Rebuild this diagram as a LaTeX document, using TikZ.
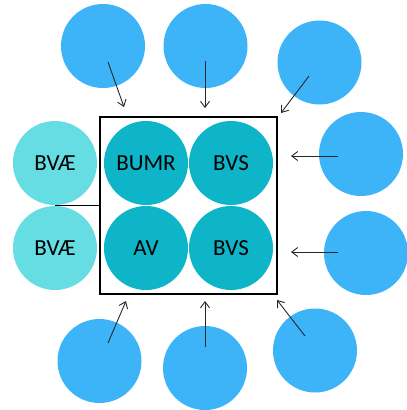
\documentclass[tikz,border=0pt]{standalone}
\usepackage{fontspec}
\usetikzlibrary{arrows.meta}
\setmainfont{Carlito}
\definecolor{outerblue}{RGB}{62,180,248}
\definecolor{innerteal}{RGB}{14,180,200}
\definecolor{sidecyan}{RGB}{102,221,226}
\begin{document}
\begin{tikzpicture}[x=1pt,y=-1pt,
 outer/.style={circle,fill=outerblue,minimum size=84pt,inner sep=0pt},
 inner/.style={circle,fill=innerteal,minimum size=84pt,inner sep=0pt,font=\fontsize{23}{25}\selectfont},
 side/.style={circle,fill=sidecyan,minimum size=84pt,inner sep=0pt,font=\fontsize{23}{25}\selectfont},
 flow/.style={-{Straight Barb[length=6pt,width=9pt]},line width=0.9pt,black!85}]
\useasboundingbox (0,0) rectangle (407,410);
% outer circles with their arrows: name/centre/start/end
 \foreach \n/\cx/\cy/\sx/\sy/\ex/\ey in {
 top1/103/46/108/62/124/107,
 top2/205.5/46/205/61/205/108,
 top3/319.5/62.5/309/76/281/113,
 right1/361/154/338/156/291/156,
 right2/366/253/338/252/291/252,
 bot1/99.5/361/108/343/126/301,
 bot2/205/368/205/347/205/301,
 bot3/315/350.5/305/336/277/300}
 {
 \node[outer] (\n) at (\cx,\cy) {};
 \coordinate (\n s) at (\sx,\sy);
 \coordinate (\n e) at (\ex,\ey);
 \draw[flow] (\n s) -- (\n e);
 }
% the box
 \node[draw,line width=1.3pt,minimum width=177pt,minimum height=177pt,inner sep=0pt] (box) at (188.5,205.5) {};
 \node[inner] (bumr) at (146,163) {BUMR};
 \node[inner] (bvs1) at (231,163) {BVS};
 \node[inner] (av) at (146,248) {AV};
 \node[inner] (bvs2) at (231,248) {BVS};
% left pair
 \node[side] (bvae1) at (55,163) {BVÆ};
 \node[side] (bvae2) at (55,248) {BVÆ};
 \coordinate (pair) at (55,205.5);
 \draw[line width=1.3pt] (pair) -- (box.west);
\end{tikzpicture}
\end{document}
